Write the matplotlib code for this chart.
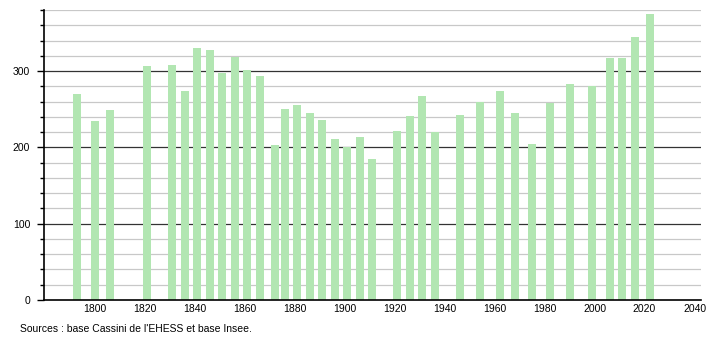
import matplotlib.pyplot as plt
import numpy as np

years = [1793, 1800, 1806, 1821, 1831, 1836, 1841, 1846, 1851, 1856,
         1861, 1866, 1872, 1876, 1881, 1886, 1891, 1896, 1901, 1906,
         1911, 1921, 1926, 1931, 1936, 1946, 1954, 1962, 1968, 1975,
         1982, 1990, 1999, 2006, 2011, 2016, 2022]
population = [270, 235, 249, 306, 308, 274, 330, 327, 298, 318,
              302, 294, 203, 250, 256, 245, 236, 211, 201, 213,
              185, 222, 241, 267, 220, 243, 260, 274, 245, 204,
              258, 283, 280, 317, 317, 345, 375]
xticks = list(range(1800, 2041, 20))

plt.rcParams['font.family'] = ['Liberation Sans', 'DejaVu Sans']

fig = plt.figure(figsize=(7.1, 3.4), dpi=100)
ax = fig.add_axes([44 / 710, 40 / 340, 656.5 / 710, 290 / 340])

# grid: light every 20, dark every 100
for y in range(20, 381, 20):
    if y % 100 == 0:
        ax.axhline(y, color='#333333', lw=0.9, zorder=1)
    else:
        ax.axhline(y, color='#c8c8c8', lw=0.9, zorder=1)

ax.bar(years, population, width=3.2, color='#b2e6b2', zorder=2)

ax.set_xlim(1779.8, 2042.4)
ax.set_ylim(0, 380)

ax.set_xticks(xticks)
ax.set_xticklabels([str(x) for x in xticks])
ax.set_yticks([0, 100, 200, 300])
ax.set_yticks(np.arange(0, 381, 20), minor=True)

ax.tick_params(axis='x', length=0, pad=3, labelsize=7.5)
ax.tick_params(axis='y', which='major', length=5, width=1, pad=5, labelsize=7.5)
ax.tick_params(axis='y', which='minor', length=3, width=1)

for side in ['top', 'right']:
    ax.spines[side].set_visible(False)
for side in ['left', 'bottom']:
    ax.spines[side].set_linewidth(1.2)
    ax.spines[side].set_color('black')

fig.text(20 / 710, 1 - 329 / 340, "Sources : base Cassini de l'EHESS et base Insee.",
         fontsize=7.5, va='center', ha='left')

fig.savefig('out.png', dpi=100)
